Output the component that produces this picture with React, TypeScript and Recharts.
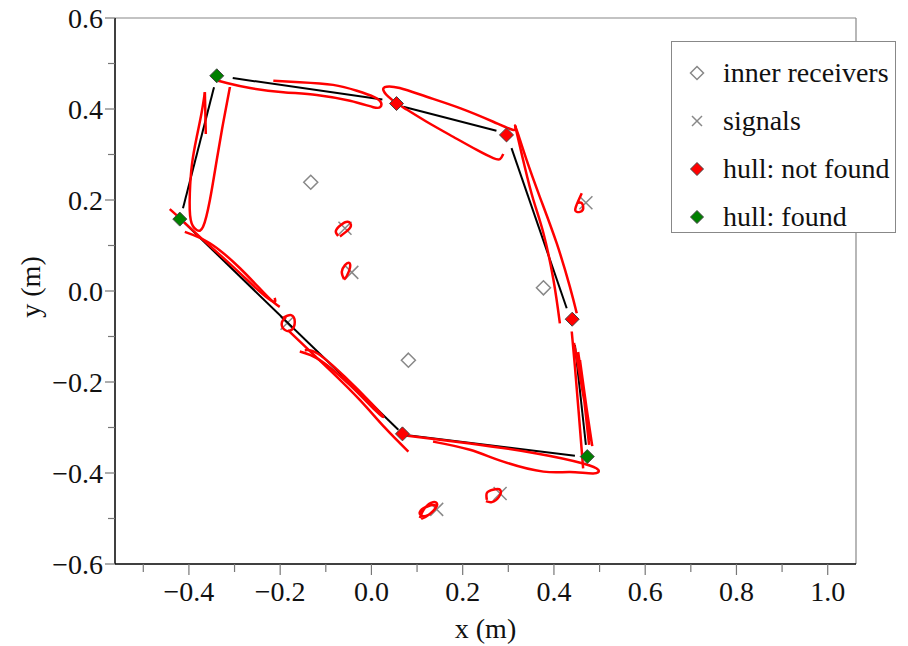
import { ScatterChart, Scatter, XAxis, YAxis, ReferenceLine, Legend } from 'recharts';

type Pt = [number, number];

const SERIF = '"Liberation Serif", "DejaVu Serif", serif';

const xTicks = [-0.5, -0.4, -0.3, -0.2, -0.1, 0, 0.1, 0.2, 0.3, 0.4, 0.5, 0.6, 0.7, 0.8, 0.9, 1.0];
const yTicks = [-0.6, -0.5, -0.4, -0.3, -0.2, -0.1, 0, 0.1, 0.2, 0.3, 0.4, 0.5, 0.6];

const legendLabels = ['inner receivers', 'signals', 'hull: not found', 'hull: found'];

// markers
const innerReceivers: Pt[] = [[-0.133, 0.239], [0.377, 0.007], [0.081, -0.152]];
const signals: Pt[] = [
  [-0.058, 0.138], [-0.043, 0.041], [0.47, 0.194],
  [-0.185, -0.071], [0.282, -0.445], [0.143, -0.48],
];
const hullNotFound: Pt[] = [[0.055, 0.412], [0.296, 0.343], [0.44, -0.062], [0.068, -0.314]];
const hullFound: Pt[] = [[-0.339, 0.473], [0.473, -0.364], [-0.42, 0.158]];

// black hull edges
const edgeTop: Pt[] = [[-0.304, 0.468], [0.024, 0.421]];
const edgeTopRight: Pt[] = [[0.07, 0.405], [0.274, 0.352]];
const edgeRight: Pt[] = [[0.307, 0.314], [0.428, -0.038]];
const edgeRightLow: Pt[] = [[0.446, -0.119], [0.47, -0.338]];
const edgeBottom: Pt[] = [[0.07, -0.316], [0.446, -0.362]];
const edgeDiagonal: Pt[] = [[-0.416, 0.156], [0.059, -0.305]];
const edgeLeft: Pt[] = [[-0.345, 0.448], [-0.413, 0.182]];

// red tracks (smooth)
const trackTop: Pt[] = [
  [-0.215, 0.462], [-0.157, 0.459], [-0.084, 0.453], [-0.032, 0.44], [0.004, 0.427],
  [0.021, 0.414], [0.019, 0.404], [0.004, 0.404], [-0.047, 0.418], [-0.12, 0.431],
  [-0.193, 0.437], [-0.266, 0.446], [-0.317, 0.457], [-0.336, 0.462],
];
const loopTopRight: Pt[] = [
  [0.289, 0.301], [0.282, 0.29], [0.267, 0.292], [0.231, 0.31], [0.179, 0.339],
  [0.121, 0.372], [0.077, 0.399], [0.055, 0.413], [0.037, 0.427], [0.026, 0.442],
  [0.033, 0.449], [0.062, 0.446], [0.121, 0.427], [0.194, 0.402], [0.267, 0.372],
  [0.311, 0.354], [0.315, 0.363],
];
const strandRightOuter: Pt[] = [
  [0.315, 0.363], [0.322, 0.343], [0.34, 0.288], [0.369, 0.207],
  [0.406, 0.105], [0.435, 0.009], [0.45, -0.049],
];
const strandRightInner: Pt[] = [
  [0.315, 0.363], [0.318, 0.35], [0.336, 0.273], [0.355, 0.2], [0.377, 0.127],
  [0.399, 0.024], [0.413, -0.071],
];
const trackRightLower: Pt[] = [[0.439, -0.089], [0.446, -0.166], [0.455, -0.276], [0.464, -0.39]];
const trackBottom: Pt[] = [
  [0.07, -0.317], [0.216, -0.335], [0.362, -0.357], [0.464, -0.379], [0.497, -0.393],
  [0.486, -0.401], [0.435, -0.398], [0.377, -0.397], [0.289, -0.375], [0.216, -0.349],
  [0.135, -0.331],
];
const trackDiagA: Pt[] = [
  [-0.442, 0.18], [-0.42, 0.16], [-0.376, 0.119], [-0.303, 0.053], [-0.244, -0.002],
  [-0.214, -0.024], [-0.212, -0.015],
];
const trackDiagB: Pt[] = [[-0.409, 0.13], [-0.354, 0.105], [-0.288, 0.05], [-0.227, -0.013], [-0.201, -0.035]];
const trackDiagLoop: Pt[] = [
  [-0.194, -0.059], [-0.176, -0.053], [-0.168, -0.068], [-0.176, -0.086],
  [-0.192, -0.084], [-0.196, -0.068], [-0.187, -0.057],
];
const trackDiagLower: Pt[] = [
  [-0.157, -0.133], [-0.113, -0.152], [-0.047, -0.207], [0.008, -0.262], [0.026, -0.276],
  [0.001, -0.248], [-0.058, -0.189], [-0.117, -0.138], [-0.146, -0.13],
];
const trackDiagAlong: Pt[] = [[-0.183, -0.086], [-0.091, -0.174], [-0.025, -0.24], [0.03, -0.301], [0.081, -0.353]];
const trackLeft: Pt[] = [
  [-0.365, 0.437], [-0.372, 0.393], [-0.383, 0.338], [-0.393, 0.281],
  [-0.398, 0.215], [-0.396, 0.156], [-0.383, 0.134], [-0.369, 0.141], [-0.354, 0.2],
  [-0.339, 0.288], [-0.325, 0.369], [-0.31, 0.449],
];
const loopA: Pt[] = [[-0.073, 0.121], [-0.078, 0.132], [-0.067, 0.145], [-0.052, 0.152], [-0.045, 0.143], [-0.056, 0.13], [-0.069, 0.12]];
const loopB: Pt[] = [[-0.06, 0.026], [-0.065, 0.042], [-0.058, 0.057], [-0.049, 0.062], [-0.047, 0.051], [-0.054, 0.033], [-0.06, 0.025]];
const loopC: Pt[] = [[0.461, 0.215], [0.448, 0.185], [0.45, 0.174], [0.463, 0.178], [0.461, 0.193], [0.45, 0.193]];
const loopD: Pt[] = [[0.253, -0.459], [0.253, -0.444], [0.266, -0.437], [0.282, -0.437], [0.279, -0.453], [0.264, -0.464], [0.251, -0.462]];
const loopE: Pt[] = [
  [0.106, -0.499], [0.117, -0.477], [0.135, -0.464], [0.144, -0.47], [0.133, -0.486], [0.115, -0.495],
  [0.106, -0.486], [0.124, -0.473], [0.141, -0.473], [0.128, -0.49], [0.109, -0.501],
];

// red tracks (sharp turns)
const spikeLeft: Pt[] = [[-0.363, 0.345], [-0.365, 0.437]];
const trackRightBundle: Pt[] = [
  [0.444, -0.114], [0.484, -0.341], [0.453, -0.134], [0.481, -0.327],
  [0.457, -0.152], [0.477, -0.338],
];

const blackEdges = [edgeTop, edgeTopRight, edgeRight, edgeRightLow, edgeBottom, edgeDiagonal, edgeLeft];
const smoothTracks = [
  trackTop, loopTopRight, strandRightOuter, strandRightInner, trackRightLower, trackBottom,
  trackDiagA, trackDiagB, trackDiagLoop, trackDiagLower, trackDiagAlong, trackLeft,
  loopA, loopB, loopC, loopD, loopE,
];
const sharpTracks = [spikeLeft, trackRightBundle];

const toXY = (pts: Pt[]) => pts.map(([x, y]) => ({ x, y }));

const fmt = (v: number) => (v < -1e-9 ? '\u2212' : '') + Math.abs(v).toFixed(1);
const isMajor = (v: number) => Math.round(Math.abs(v) * 10) % 2 === 0;

const noDot = () => <g />;

const diamond = (fill: string, r: number) => (p: any) => (
  <polygon
    points={`${p.cx},${p.cy - r} ${p.cx + r},${p.cy} ${p.cx},${p.cy + r} ${p.cx - r},${p.cy}`}
    fill={fill}
    stroke={fill === 'none' ? '#888' : '#444'}
    strokeWidth={fill === 'none' ? 1.5 : 1}
  />
);

const cross = (r: number) => (p: any) => (
  <g stroke="#888" strokeWidth={1.5}>
    <line x1={p.cx - r} y1={p.cy - r} x2={p.cx + r} y2={p.cy + r} />
    <line x1={p.cx - r} y1={p.cy + r} x2={p.cx + r} y2={p.cy - r} />
  </g>
);

const XTick = ({ x, y, payload }: any) => {
  const v = payload.value;
  const major = isMajor(v);
  return (
    <g>
      <line x1={x} x2={x} y1={y} y2={y + (major ? 11 : 8)} stroke="#777" strokeWidth={1.2} />
      {major && (
        <text x={x} y={y + 37} textAnchor="middle" fontSize={28} fontFamily={SERIF} fill="#111">
          {fmt(v)}
        </text>
      )}
    </g>
  );
};

const YTick = ({ x, y, payload }: any) => {
  const v = payload.value;
  const major = isMajor(v);
  return (
    <g>
      <line x1={x - (major ? 10 : 7)} x2={x} y1={y} y2={y} stroke="#777" strokeWidth={1.2} />
      {major && (
        <text x={x - 12} y={y + 9.5} textAnchor="end" fontSize={28} fontFamily={SERIF} fill="#111">
          {fmt(v)}
        </text>
      )}
    </g>
  );
};

const XLabel = ({ viewBox }: any) => (
  <text x={viewBox.x + viewBox.width / 2} y={viewBox.y + 74} textAnchor="middle" fontSize={28} fontFamily={SERIF} fill="#111">
    x (m)
  </text>
);

const YLabel = () => (
  <text x={40} y={287} transform="rotate(-90 40 287)" textAnchor="middle" fontSize={28} fontFamily={SERIF} fill="#111">
    y (m)
  </text>
);

const legendMarkers = [
  <polygon key="a" points="12,5.5 18.5,12 12,18.5 5.5,12" fill="none" stroke="#888" strokeWidth={1.5} />,
  <g key="b" stroke="#888" strokeWidth={1.5}><line x1={7} y1={7} x2={17} y2={17} /><line x1={7} y1={17} x2={17} y2={7} /></g>,
  <polygon key="c" points="12,5.5 18.5,12 12,18.5 5.5,12" fill="#ff0000" stroke="#444" strokeWidth={1} />,
  <polygon key="d" points="12,5.5 18.5,12 12,18.5 5.5,12" fill="#008000" stroke="#444" strokeWidth={1} />,
];

const LegendBox = () => (
  <div
    style={{
      position: 'relative', width: 225, height: 192, boxSizing: 'border-box',
      border: '1px solid #888', background: '#fff', fontFamily: SERIF, fontSize: 28, color: '#111',
    }}
  >
    {legendLabels.map((label, i) => (
      <div key={label} style={{ position: 'absolute', left: 0, top: 7 + i * 48, height: 48, display: 'flex', alignItems: 'center', whiteSpace: 'nowrap' }}>
        <svg width={24} height={24} style={{ marginLeft: 13, marginRight: 14 }}>{legendMarkers[i]}</svg>
        <span style={{ lineHeight: '48px' }}>{label}</span>
      </div>
    ))}
  </div>
);

export default function App() {
  return (
    <div style={{ position: 'absolute', left: 0, top: 0, width: 908, height: 646, background: '#fff' }}>
      <ScatterChart width={908} height={646} margin={{ top: 18, right: 52, bottom: 0, left: 0 }}>
        <XAxis
          type="number"
          dataKey="x"
          domain={[-0.562, 1.062]}
          allowDataOverflow
          ticks={xTicks}
          interval={0}
          height={82}
          tickSize={0}
          tickMargin={0}
          tick={<XTick />}
          axisLine={{ stroke: '#000', strokeWidth: 1.5 }}
          label={<XLabel />}
        />
        <YAxis
          type="number"
          dataKey="y"
          domain={[-0.6, 0.6]}
          allowDataOverflow
          ticks={yTicks}
          interval={0}
          width={115}
          tickSize={0}
          tickMargin={0}
          tick={<YTick />}
          axisLine={{ stroke: '#000', strokeWidth: 1.5 }}
          label={<YLabel />}
        />
        <ReferenceLine y={0.6} stroke="#888" strokeWidth={1.2} />
        <ReferenceLine x={1.062} stroke="#888" strokeWidth={1.2} />

        <Scatter data={toXY(innerReceivers)} shape={diamond('none', 7)} isAnimationActive={false} legendType="none" />
        <Scatter data={toXY(signals)} shape={cross(6.5)} isAnimationActive={false} legendType="none" />

        {blackEdges.map((e, i) => (
          <Scatter key={'edge' + i} data={toXY(e)} line={{ stroke: '#000', strokeWidth: 2 }} lineType="joint" shape={noDot} isAnimationActive={false} legendType="none" />
        ))}
        {smoothTracks.map((t, i) => (
          <Scatter key={'smooth' + i} data={toXY(t)} line={{ stroke: '#ff0000', strokeWidth: 2.5, fill: 'none' }} lineType="joint" lineJointType="natural" shape={noDot} isAnimationActive={false} legendType="none" />
        ))}
        {sharpTracks.map((t, i) => (
          <Scatter key={'sharp' + i} data={toXY(t)} line={{ stroke: '#ff0000', strokeWidth: 2.5 }} lineType="joint" shape={noDot} isAnimationActive={false} legendType="none" />
        ))}

        <Scatter data={toXY(hullNotFound)} shape={diamond('#ff0000', 7)} isAnimationActive={false} legendType="none" />
        <Scatter data={toXY(hullFound)} shape={diamond('#008000', 7)} isAnimationActive={false} legendType="none" />

        <Legend
          layout="horizontal"
          verticalAlign="middle"
          align="center"
          content={<LegendBox />}
          wrapperStyle={{ position: 'absolute', left: 671, top: 41, width: 225, height: 192 }}
        />
      </ScatterChart>
    </div>
  );
}
